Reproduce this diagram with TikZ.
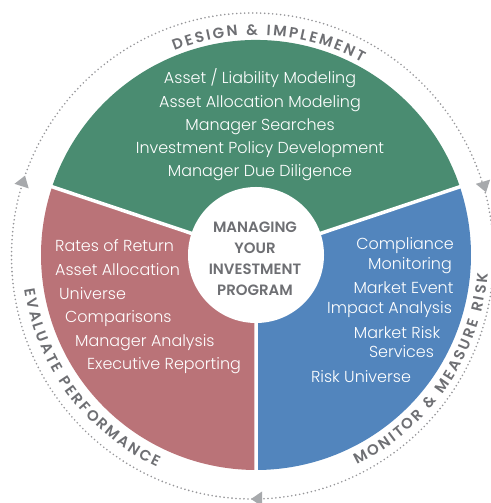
\documentclass[tikz,border=0pt]{standalone}
\usepackage{fontspec}
\setmainfont{Poppins}
\newfontfamily\lightf{Poppins Light}
\newfontfamily\semif{Poppins SemiBold}
\usetikzlibrary{decorations.text}
\definecolor{secgreen}{RGB}{74,140,113}
\definecolor{secpink}{RGB}{186,115,120}
\definecolor{secblue}{RGB}{82,133,189}
\definecolor{labelgray}{RGB}{110,111,115}
\definecolor{ringgray}{RGB}{150,150,153}
\definecolor{arrowgray}{RGB}{167,169,172}
\newcommand\ringstyle{\semif\fontsize{15}{15}\selectfont\color{labelgray}}
\newcommand\ls{\kern2.2bp}
\newcommand\wg{\kern4bp}
\begin{document}
\begin{tikzpicture}[x=1bp,y=1bp,
  item/.style={text=white, font=\lightf\fontsize{16}{23.4}\selectfont, inner sep=0pt},
  hubtext/.style={text=labelgray, font=\semif\fontsize{15}{21}\selectfont, align=center, inner sep=0pt},
  ringline/.style={ringgray, line width=1.8bp, dash pattern=on 0pt off 4bp, line cap=round},
  divider/.style={white, line width=3.5bp},
  cwarrow/.style={fill=arrowgray}
]
\useasboundingbox (0,0) rectangle (491,503);
\coordinate (c) at (256,248);
% sectors
\fill[secgreen] (c) -- ++(18.5:215) arc[start angle=18.5,end angle=161.5,radius=215] -- cycle;
\fill[secpink] (c) -- ++(161.5:215) arc[start angle=161.5,end angle=270,radius=215] -- cycle;
\fill[secblue] (c) -- ++(270:215) arc[start angle=270,end angle=378.5,radius=215] -- cycle;
\path (c) ++(18.5:218) coordinate (d1);
\path (c) ++(161.5:218) coordinate (d2);
\path (c) ++(270:218) coordinate (d3);
\draw[divider] (c) -- (d1) (c) -- (d2) (c) -- (d3);
\node[circle, fill=white, minimum size=136bp, inner sep=0pt] (hub) at (c) {};
\node[hubtext] (hubtxt) at (255,244.5) {MANAGING\\YOUR\\INVESTMENT\\PROGRAM};
% outer dotted ring
\draw[ringline] (252.5,247) ellipse [x radius=241, y radius=243];
% arrows
\fill[cwarrow, shift={(23.3,322.1)}, rotate=72] (5.5,0) -- (-5.5,7.5) -- (-5.5,-7.5) -- cycle;
\fill[cwarrow, shift={(484.5,316)}, rotate=-73.5] (5.5,0) -- (-5.5,7.5) -- (-5.5,-7.5) -- cycle;
\fill[cwarrow, shift={(256.5,4)}, rotate=180] (5.5,0) -- (-5.5,7.5) -- (-5.5,-7.5) -- cycle;
% green texts
\node[item, align=center] (design) at (260,378) {Asset / Liability Modeling\\Asset Allocation Modeling\\Manager Searches\\Investment Policy Development\\Manager Due Diligence};
% pink texts
\node[item, anchor=base west] (p1) at (55,251.5) {Rates of Return};
\node[item, anchor=base west] (p2) at (55,227.5) {Asset Allocation};
\node[item, anchor=base west] (p3) at (59,203.5) {Universe};
\node[item, anchor=base west] (p4) at (65,180.5) {Comparisons};
\node[item, anchor=base west] (p5) at (75,156.5) {Manager Analysis};
\node[item, anchor=base west] (p6) at (87,133.5) {Executive Reporting};
% blue texts
\node[item, anchor=base] (b1) at (405,253.5) {Compliance};
\node[item, anchor=base] (b2) at (410,233.5) {Monitoring};
\node[item, anchor=base] (b3) at (403.5,209.5) {Market Event};
\node[item, anchor=base] (b4) at (389.5,189.5) {Impact Analysis};
\node[item, anchor=base] (b5) at (397,164.5) {Market Risk};
\node[item, anchor=base] (b6) at (401.5,145.5) {Services};
\node[item, anchor=base] (b7) at (361,120.5) {Risk Universe};
% ring labels
\path[decorate, decoration={text along path, text align=center,
  text={|\ringstyle|D{\ls}E{\ls}S{\ls}I{\ls}G{\ls}N{\ls}{\wg}{\ls}{\&}{\ls}{\wg}{\ls}I{\ls}M{\ls}P{\ls}L{\ls}E{\ls}M{\ls}E{\ls}N{\ls}T}}]
  (c) ++(146.5:220) arc[start angle=146.5, end angle=26.5, radius=220];
\path[decorate, decoration={text along path, text align=center,
  text={|\ringstyle|E{\ls}V{\ls}A{\ls}L{\ls}U{\ls}A{\ls}T{\ls}E{\ls}{\wg}{\ls}P{\ls}E{\ls}R{\ls}F{\ls}O{\ls}R{\ls}M{\ls}A{\ls}N{\ls}C{\ls}E}}]
  (c) ++(156.75:234) arc[start angle=156.75, end angle=276.75, radius=234];
\path[decorate, decoration={text along path, text align=center,
  text={|\ringstyle|M{\ls}O{\ls}N{\ls}I{\ls}T{\ls}O{\ls}R{\ls}{\wg}{\ls}{\&}{\ls}{\wg}{\ls}M{\ls}E{\ls}A{\ls}S{\ls}U{\ls}R{\ls}E{\ls}{\wg}{\ls}R{\ls}I{\ls}S{\ls}K}}]
  (c) ++(-94.5:232.5) arc[start angle=-94.5, end angle=25.5, radius=232.5];
\end{tikzpicture}
\end{document}
